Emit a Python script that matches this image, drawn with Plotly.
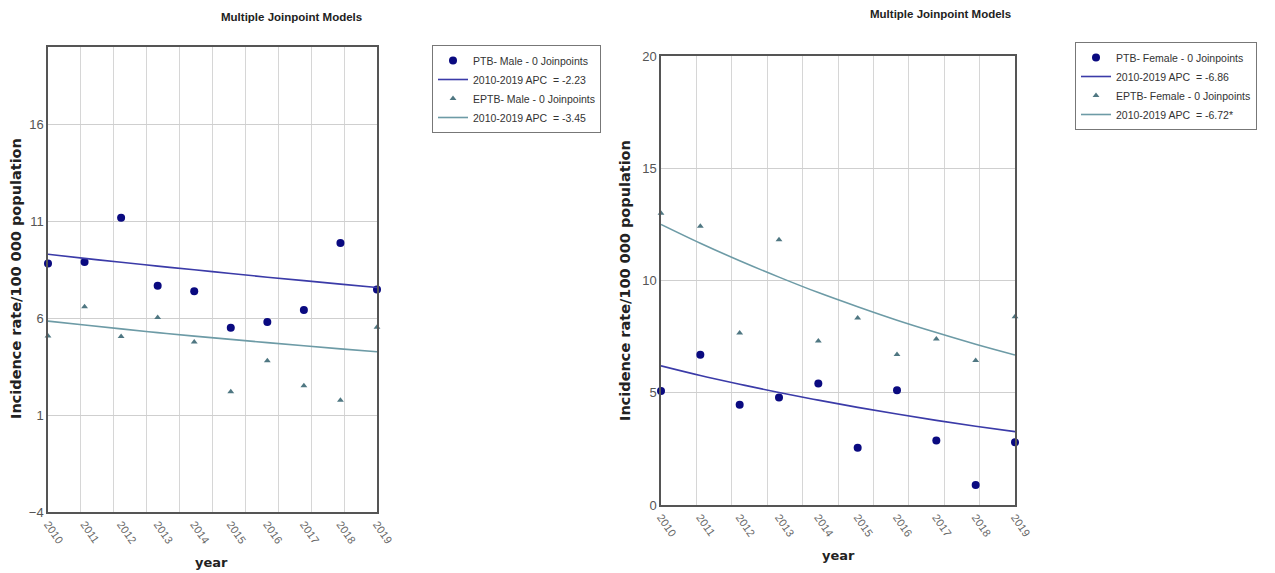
import plotly.graph_objects as go

years = [2010, 2011, 2012, 2013, 2014, 2015, 2016, 2017, 2018, 2019]
year_labels = [str(y) for y in years]

# Left panel (Male)
ptb_male = [8.83, 8.90, 11.19, 7.68, 7.40, 5.51, 5.81, 6.42, 9.89, 7.49]
ptb_male_fit = [9.30, 9.09, 8.89, 8.69, 8.50, 8.31, 8.12, 7.94, 7.76, 7.59]
eptb_male = [5.09, 6.60, 5.06, 6.04, 4.77, 2.21, 3.81, 2.51, 1.77, 5.53]
eptb_male_fit = [5.85, 5.65, 5.45, 5.26, 5.08, 4.91, 4.74, 4.58, 4.42, 4.27]

# Right panel (Female)
ptb_female = [5.08, 6.69, 4.46, 4.79, 5.41, 2.55, 5.11, 2.87, 0.89, 2.79]
ptb_female_fit = [6.20, 5.77, 5.38, 5.01, 4.67, 4.35, 4.05, 3.77, 3.51, 3.27]
eptb_female = [12.99, 12.42, 7.66, 11.82, 7.31, 8.33, 6.70, 7.39, 6.44, 8.39]
eptb_female_fit = [12.50, 11.66, 10.88, 10.15, 9.46, 8.83, 8.23, 7.68, 7.16, 6.68]

left_ticks = [-4, 1, 6, 11, 16]
right_ticks = [0, 5, 10, 15, 20]

left_names = ["PTB- Male - 0 Joinpoints", "2010-2019 APC  = -2.23",
              "EPTB- Male - 0 Joinpoints", "2010-2019 APC  = -3.45"]
right_names = ["PTB- Female - 0 Joinpoints", "2010-2019 APC  = -6.86",
               "EPTB- Female - 0 Joinpoints", "2010-2019 APC  = -6.72*"]

DOT = "#0a0a80"
TRI = "#4f7782"
PTB_LINE = "#3b3ba8"
EPTB_LINE = "#6d9ba6"
NARROW = "Liberation Sans Narrow, Arial Narrow, sans-serif"

W, H = 1275, 573
def px(x): return x / W
def py(y): return 1 - y / H

fig = go.Figure()

def add_panel(xa, ya, leg, ptb, ptb_fit, eptb, eptb_fit, names):
    fig.add_trace(go.Scatter(x=years, y=ptb, mode="markers", name=names[0],
                             marker=dict(color=DOT, size=8, symbol="circle"),
                             xaxis=xa, yaxis=ya, legend=leg, cliponaxis=False))
    fig.add_trace(go.Scatter(x=years, y=ptb_fit, mode="lines", name=names[1],
                             line=dict(color=PTB_LINE, width=1.6, shape="spline"),
                             xaxis=xa, yaxis=ya, legend=leg))
    fig.add_trace(go.Scatter(x=years, y=eptb, mode="markers", name=names[2],
                             marker=dict(color=TRI, size=6, symbol="triangle-up"),
                             xaxis=xa, yaxis=ya, legend=leg, cliponaxis=False))
    fig.add_trace(go.Scatter(x=years, y=eptb_fit, mode="lines", name=names[3],
                             line=dict(color=EPTB_LINE, width=1.6, shape="spline"),
                             xaxis=xa, yaxis=ya, legend=leg))

add_panel("x", "y", "legend", ptb_male, ptb_male_fit, eptb_male, eptb_male_fit, left_names)
add_panel("x2", "y2", "legend2", ptb_female, ptb_female_fit, eptb_female, eptb_female_fit, right_names)

def xaxis_cfg(domain):
    return dict(domain=domain, range=[2010, 2019], tickmode="array",
                tickvals=years, ticktext=year_labels, tickangle=55,
                tickfont=dict(family=NARROW, size=11, color="#666"),
                showgrid=False, zeroline=False, showline=True, mirror=True,
                linecolor="#555", linewidth=1.5, ticks="", automargin=False,
                minor=dict(tickmode="linear", tick0=2010, dtick=0.9, showgrid=True,
                           gridcolor="#d6d6d6", gridwidth=1))

def yaxis_cfg(domain, rng, ticks, anchor):
    return dict(domain=domain, range=rng, tickmode="array", tickvals=ticks,
                tickfont=dict(family=NARROW, size=13, color="#555"),
                showgrid=True, gridcolor="#cfcfcf", gridwidth=1, zeroline=False,
                showline=True, mirror=True, linecolor="#555", linewidth=1.5,
                ticks="", anchor=anchor, automargin=False)

legend_common = dict(bgcolor="white", bordercolor="#777", borderwidth=1,
                     font=dict(family=NARROW, size=10.5, color="#333"),
                     xanchor="left", yanchor="top", tracegroupgap=0,
                     itemwidth=30)

fig.update_layout(
    width=W, height=H,
    margin=dict(l=0, r=0, t=0, b=0, autoexpand=False),
    paper_bgcolor="white", plot_bgcolor="white",
    xaxis=dict(**xaxis_cfg([px(48), px(377)]), anchor="y"),
    yaxis=yaxis_cfg([py(512), py(47)], [-4, 20], left_ticks, "x"),
    xaxis2=dict(**xaxis_cfg([px(661), px(1015)]), anchor="y2"),
    yaxis2=yaxis_cfg([py(505), py(56)], [0, 20], right_ticks, "x2"),
    legend=dict(x=px(432), y=py(45), **legend_common),
    legend2=dict(x=px(1075), y=py(42), **legend_common),
    showlegend=True,
)

title_font = dict(family=NARROW, size=11.5, color="#222")
label_font = dict(family="DejaVu Sans, sans-serif", size=14.5, color="#222")
year_font = dict(family="DejaVu Sans, sans-serif", size=13, color="#222")

annotations = [
    dict(text="<b>Multiple Joinpoint Models</b>", x=px(291), y=py(17), font=title_font),
    dict(text="<b>Multiple Joinpoint Models</b>", x=px(940), y=py(14), font=title_font),
    dict(text="<b>Incidence rate/100 000 population</b>", x=px(16), y=py(279),
         textangle=-90, font=label_font),
    dict(text="<b>Incidence rate/100 000 population</b>", x=px(625), y=py(281),
         textangle=-90, font=label_font),
    dict(text="<b>year</b>", x=px(212), y=py(562), font=year_font),
    dict(text="<b>year</b>", x=px(838), y=py(555), font=year_font),
]
for a in annotations:
    fig.add_annotation(xref="paper", yref="paper", showarrow=False,
                       xanchor="center", yanchor="middle", **a)

fig.write_html("out.html", config={"displayModeBar": False},
               post_script="document.body.style.margin='0px';"
                           "document.body.style.overflow='hidden';")
